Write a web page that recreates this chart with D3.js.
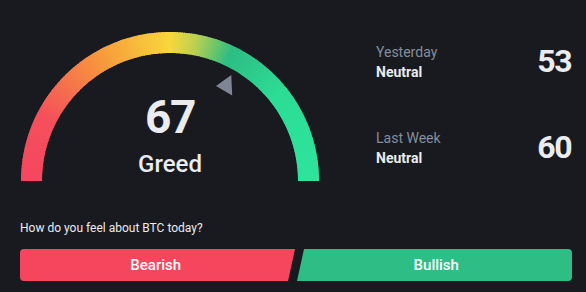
<!DOCTYPE html>
<html>
<head>
<meta charset="utf-8">
<script src="https://cdn.jsdelivr.net/npm/d3@7"></script>
<style>
  html, body { margin: 0; padding: 0; background: #181a20; }
  svg { display: block; font-family: Roboto, "Noto Sans", sans-serif; }
</style>
</head>
<body>
<div id="chart"></div>
<script>
// fear & greed values
const currentValue = 67;
const currentLabel = "Greed";
const historyLabels = ["Yesterday", "Last Week"];
const historyStates = ["Neutral", "Neutral"];
const historyValues = [53, 60];
const question = "How do you feel about BTC today?";
const voteLabels = ["Bearish", "Bullish"];

// gauge colour stops (value -> colour)
const stopValues = [0, 15, 33, 50, 56, 64, 78, 100];
const stopColors = ["#f5465f", "#f5505c", "#f7963d", "#f8d83b", "#b8d052", "#2dbd83", "#2ddc95", "#2ee49c"];

const width = 586, height = 292;
const cx = 170, cy = 181;
const outerR = 149, innerR = 128;

const svg = d3.select("#chart").append("svg")
    .attr("width", width)
    .attr("height", height);

svg.append("rect")
    .attr("width", width)
    .attr("height", height)
    .attr("fill", "#181a20");

const angle = d3.scaleLinear().domain([0, 100]).range([-Math.PI / 2, Math.PI / 2]);
const color = d3.scaleLinear().domain(stopValues).range(stopColors).interpolate(d3.interpolateRgb);

const gauge = svg.append("g").attr("transform", `translate(${cx},${cy})`);

// gradient arc made of thin slices
const steps = d3.range(0, 100, 0.5);
const arc = d3.arc().innerRadius(innerR).outerRadius(outerR);
gauge.selectAll("path.seg")
    .data(steps)
    .enter().append("path")
    .attr("class", "seg")
    .attr("d", d => arc({startAngle: angle(d), endAngle: Math.min(angle(d + 0.8), angle(100))}))
    .attr("fill", d => color(d + 0.25));

// pointer
const a = angle(currentValue);
const pr = 111;
gauge.append("path")
    .attr("d", "M-10.5,0.6L4.8,-10.4L5.7,10Z")
    .attr("transform", `translate(${pr * Math.sin(a)},${-pr * Math.cos(a)})`)
    .attr("fill", "#7f8595");

gauge.append("text")
    .attr("x", 0).attr("y", 133 - cy)
    .attr("text-anchor", "middle")
    .attr("font-size", 46)
    .attr("font-weight", 700)
    .attr("letter-spacing", -1.5)
    .attr("fill", "#eaecef")
    .text(currentValue);

gauge.append("text")
    .attr("x", 0).attr("y", 172 - cy)
    .attr("text-anchor", "middle")
    .attr("font-size", 24)
    .attr("font-weight", 500)
    .attr("fill", "#eaecef")
    .text(currentLabel);

// history rows
const rowY = d3.scalePoint().domain(historyLabels).range([57, 143]);
const rows = svg.selectAll("g.row")
    .data(historyLabels)
    .enter().append("g")
    .attr("class", "row")
    .attr("transform", d => `translate(0,${rowY(d)})`);

rows.append("text")
    .attr("x", 376).attr("y", 0)
    .attr("font-size", 14)
    .attr("fill", "#848e9c")
    .text(d => d);

rows.append("text")
    .attr("x", 376).attr("y", 20)
    .attr("font-size", 14)
    .attr("font-weight", 700)
    .attr("fill", "#eaecef")
    .text((d, i) => historyStates[i]);

rows.append("text")
    .attr("x", 571).attr("y", 15)
    .attr("text-anchor", "end")
    .attr("font-size", 32)
    .attr("font-weight", 700)
    .attr("letter-spacing", -1.5)
    .attr("fill", "#eaecef")
    .text((d, i) => historyValues[i]);

// question + vote buttons
svg.append("text")
    .attr("x", 20).attr("y", 232)
    .attr("font-size", 12)
    .attr("fill", "#eaecef")
    .text(question);

const bx = d3.scaleLinear().domain([0, 1]).range([20, 572]);
const btnTop = 249, btnBot = 281, r = 4, slant = 3.5, gap = 4.5;
const mid = bx(0.5);

svg.append("path")
    .attr("d", `M${bx(0) + r},${btnTop}L${mid + slant - gap},${btnTop}L${mid - slant - gap},${btnBot}L${bx(0) + r},${btnBot}` +
        `Q${bx(0)},${btnBot} ${bx(0)},${btnBot - r}L${bx(0)},${btnTop + r}Q${bx(0)},${btnTop} ${bx(0) + r},${btnTop}Z`)
    .attr("fill", "#f6465d");

svg.append("path")
    .attr("d", `M${mid + slant + gap},${btnTop}L${bx(1) - r},${btnTop}Q${bx(1)},${btnTop} ${bx(1)},${btnTop + r}` +
        `L${bx(1)},${btnBot - r}Q${bx(1)},${btnBot} ${bx(1) - r},${btnBot}L${mid - slant + gap},${btnBot}Z`)
    .attr("fill", "#2ebd85");

svg.selectAll("text.vote")
    .data(voteLabels)
    .enter().append("text")
    .attr("class", "vote")
    .attr("x", (d, i) => i === 0 ? (bx(0) + mid - gap) / 2 : (mid + gap + bx(1)) / 2)
    .attr("y", 270)
    .attr("text-anchor", "middle")
    .attr("font-size", 15)
    .attr("font-weight", 500)
    .attr("fill", "#ffffff")
    .text(d => d);
</script>
</body>
</html>
